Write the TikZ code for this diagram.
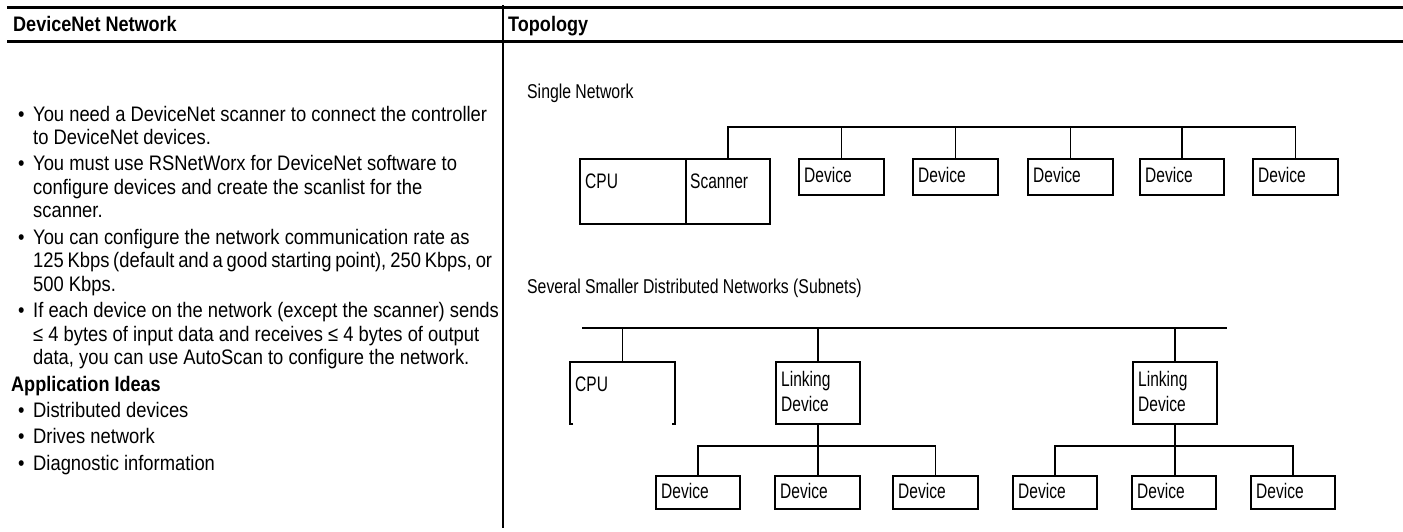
\documentclass[tikz,border=0pt]{standalone}
\usepackage{fontspec}
\setmainfont{Liberation Sans}
\newfontfamily\bodyfont{Liberation Sans}[FakeStretch=0.875]
\newfontfamily\headfont{Liberation Sans}[FakeStretch=0.86]
\newfontfamily\titlefont{Liberation Sans}[FakeStretch=0.79]
\newfontfamily\boxfont{Liberation Sans}[FakeStretch=0.74]
\newcommand\FitTo[2]{\makebox[#1pt][s]{#2}}
\newcommand\Bul{\makebox[15pt][l]{•}}
\begin{document}
\begin{tikzpicture}[x=1pt,y=-1pt,
  rule/.style={line width=3pt},
  divider/.style={line width=1.6pt},
  wire/.style={line width=1.3pt},
  box/.style={draw, line width=1.3pt, inner sep=0pt, outer sep=0pt, anchor=north west},
  ghost/.style={inner sep=0pt, outer sep=0pt, anchor=north west},
  hdr/.style={inner sep=0pt, anchor=base west, font=\headfont\bfseries\fontsize{21}{23}\selectfont},
  body/.style={inner sep=0pt, anchor=base west, font=\bodyfont\fontsize{21}{23}\selectfont},
  bodyb/.style={inner sep=0pt, anchor=base west, font=\headfont\bfseries\fontsize{21}{23}\selectfont},
  ttl/.style={inner sep=0pt, anchor=base west, font=\titlefont\fontsize{20}{22}\selectfont},
  lbl/.style={inner sep=0pt, anchor=base west, font=\boxfont\fontsize{21}{23}\selectfont}
]
\useasboundingbox (0,0) rectangle (1403,531);
\fill[white] (0,0) rectangle (1403,531);

% header
\draw[rule] (7,7.5) -- (1403,7.5);
\draw[rule] (7,41.5) -- (1403,41.5);
\draw[divider] (503,5) -- (503,528);
\node[hdr] (h1) at (13,31) {DeviceNet Network};
\node[hdr] (h2) at (508,31) {Topology};

% left column
\node[body] (l1) at (18,121) {\Bul You need a DeviceNet scanner to connect the controller};
\node[body] (l2) at (33,144.5) {to DeviceNet devices.};
\node[body] (l3) at (18,170.9) {\Bul You must use RSNetWorx for DeviceNet software to};
\node[body] (l4) at (33,194.4) {configure devices and create the scanlist for the};
\node[body] (l5) at (33,217.9) {scanner.};
\node[body] (l6) at (18,244.3) {\Bul You can configure the network communication rate as};
\node[body] (l7) at (33,267.8) {\FitTo{459}{125 Kbps (default and a good starting point), 250 Kbps, or}};
\node[body] (l8) at (33,291.3) {500 Kbps.};
\node[body] (l9) at (18,317.7) {\Bul If each device on the network (except the scanner) sends};
\node[body] (l10) at (33,341.2) {≤ 4 bytes of input data and receives ≤ 4 bytes of output};
\node[body] (l11) at (33,364.7) {data, you can use AutoScan to configure the network.};
\node[bodyb] (l12) at (11,391.1) {Application Ideas};
\node[body] (l13) at (18,417.5) {\Bul Distributed devices};
\node[body] (l14) at (18,443.9) {\Bul Drives network};
\node[body] (l15) at (18,470) {\Bul Diagnostic information};

% single network
\node[ttl] (t1) at (527,98) {Single Network};
\node[box, minimum width=106pt, minimum height=65pt] (cpu1) at (580,159) {};
\node[box, minimum width=84pt, minimum height=65pt] (scan) at (686,159) {};
\node[box, minimum width=85pt, minimum height=36pt] (d1) at (799,159) {};
\node[box, minimum width=85pt, minimum height=36pt] (d2) at (913,159) {};
\node[box, minimum width=85pt, minimum height=36pt] (d3) at (1028,159) {};
\node[box, minimum width=84pt, minimum height=36pt] (d4) at (1140,159) {};
\node[box, minimum width=85pt, minimum height=36pt] (d5) at (1253,159) {};
\node[lbl] (cpu1t) at ([shift={(5pt,-29pt)}]cpu1.north west) {CPU};
\node[lbl] (scant) at ([shift={(4pt,-29pt)}]scan.north west) {Scanner};
\foreach \n in {d1,d2,d3,d4,d5}
  \node[lbl] (\n t) at ([shift={(5pt,-23pt)}]\n.north west) {Device};
\coordinate (bus1) at (0,127);
\draw[wire] (scan.north) |- (d5.north |- bus1) -- (d5.north);
\foreach \n in {d1,d2,d3,d4}
  \draw[wire] (\n.north) -- (\n.north |- bus1);

% subnets
\node[ttl] (t2) at (527,293) {Several Smaller Distributed Networks (Subnets)};
\node[ghost, minimum width=105pt, minimum height=62pt] (cpu2) at (570,362) {};
\draw[wire] ([xshift=3pt]cpu2.south west) -- (cpu2.south west) -- (cpu2.north west)
  -- (cpu2.north east) -- (cpu2.south east) -- ([xshift=-3pt]cpu2.south east);
\node[lbl] (cpu2t) at ([shift={(5pt,-29pt)}]cpu2.north west) {CPU};
\node[box, minimum width=84pt, minimum height=62pt] (ld1) at (776,362) {};
\node[box, minimum width=84pt, minimum height=62pt] (ld2) at (1133,362) {};
\foreach \n in {ld1,ld2}{
  \node[lbl] (\n a) at ([shift={(5pt,-24pt)}]\n.north west) {Linking};
  \node[lbl] (\n b) at ([shift={(5pt,-49pt)}]\n.north west) {Device};
}
\coordinate (busL) at (582,328);
\coordinate (busR) at (1227,328);
\draw[wire] (busL) -- (busR);
\foreach \n in {cpu2,ld1,ld2}
  \draw[wire] (\n.north) -- (\n.north |- busL);

\node[box, minimum width=84pt, minimum height=33pt] (sa) at (656,476) {};
\node[box, minimum width=85pt, minimum height=33pt] (sb) at (775,476) {};
\node[box, minimum width=85pt, minimum height=33pt] (sc) at (893,476) {};
\node[box, minimum width=84pt, minimum height=33pt] (sd) at (1013,476) {};
\node[box, minimum width=84pt, minimum height=33pt] (se) at (1132,476) {};
\node[box, minimum width=84pt, minimum height=33pt] (sf) at (1251,476) {};
\foreach \n in {sa,sb,sc,sd,se,sf}
  \node[lbl] (\n t) at ([shift={(5pt,-22pt)}]\n.north west) {Device};

\coordinate (sub1) at (818,446);
\coordinate (sub2) at (1175,446);
\draw[wire] (sa.north) |- (sub1) -| (sc.north);
\draw[wire] (sd.north) |- (sub2) -| (sf.north);
\draw[wire] (ld1.south) -- (ld1.south |- sb.north);
\draw[wire] (ld2.south) -- (ld2.south |- se.north);
\end{tikzpicture}
\end{document}
